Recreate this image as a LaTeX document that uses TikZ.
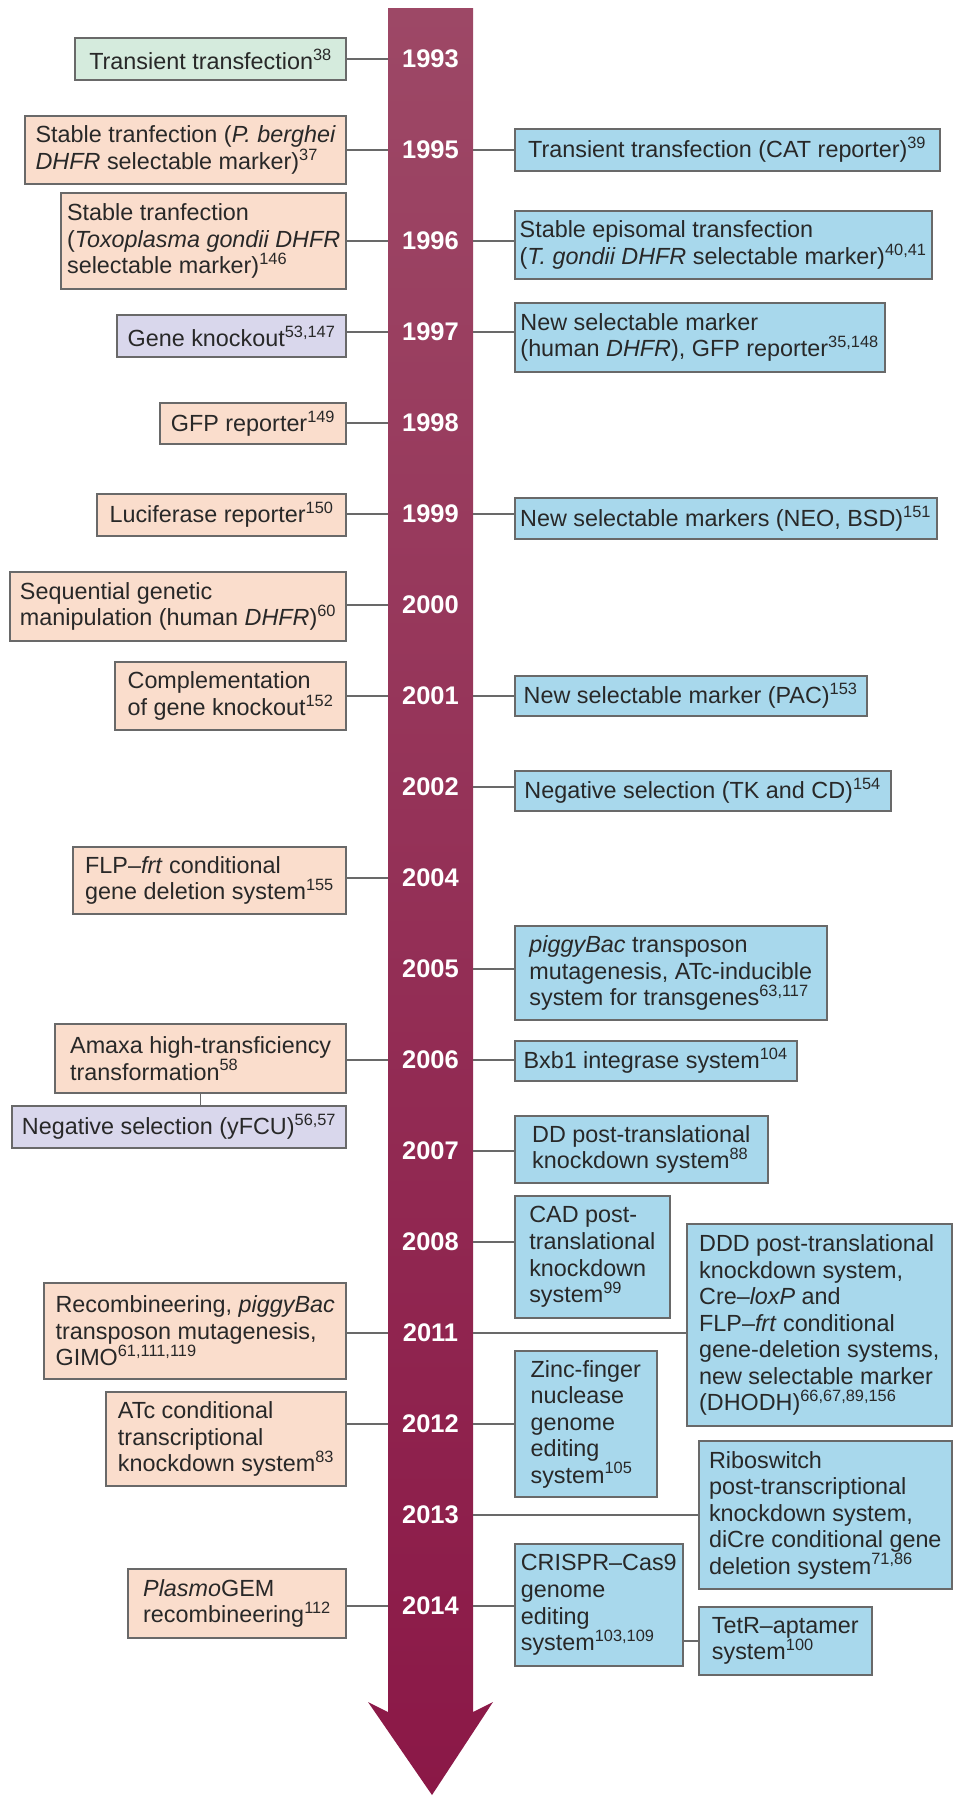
\documentclass[tikz,border=0pt]{standalone}
\usepackage{fontspec}
\setmainfont{Liberation Sans}
\usepackage{xcolor}
\usepackage{tikz}
\definecolor{peach}{RGB}{250,221,204}
\definecolor{skyblue}{RGB}{168,216,236}
\definecolor{mint}{RGB}{213,235,221}
\definecolor{lavender}{RGB}{217,215,236}
\definecolor{bartop}{RGB}{157,72,102}
\definecolor{barbottom}{RGB}{139,24,71}
\definecolor{edgegray}{RGB}{105,105,105}
\definecolor{inkgray}{RGB}{40,40,40}

\begin{document}
\begin{tikzpicture}[x=0.02cm,y=-0.02cm,
    sz/.style 2 args={minimum width=#1*0.02cm,minimum height=#2*0.02cm},
    evbox/.style={draw=edgegray,line width=0.9pt,text=inkgray,align=left,
      inner xsep=0.06cm,inner ysep=0pt,font=\fontsize{13.3}{15.1}\selectfont},
    lbox/.style={evbox,fill=peach,anchor=east},
    rbox/.style={evbox,fill=skyblue,anchor=west},
    link/.style={draw=edgegray,line width=0.75pt},
    yearlbl/.style={text=white,font=\fontsize{14.5}{16}\selectfont\bfseries,
      minimum width=1.7cm,inner sep=0pt}]
    \useasboundingbox (0,0) rectangle (953,1796);

    % Time arrow
    \shade[top color=bartop,bottom color=barbottom]
      (388,8) -- (473,8) -- (473,1712) -- (493,1702) -- (432,1795)
      -- (368,1702) -- (388,1712) -- cycle;

    % Years
    \foreach \yr [count=\k from 0] in {1993,1995,1996,1997,1998,1999,2000,2001,2002,
        2004,2005,2006,2007,2008,2011,2012,2013,2014}
      \node[yearlbl] (y\yr) at (430.5,{59+91*\k}) {\yr};

    % Left side
    \node[lbox,fill=mint,sz={271}{42}] (l93) at (347,59) {Transient transfection\textsuperscript{38}};
    \node[lbox,sz={321}{68}] (l95) at (347,150) {Stable tranfection (\textit{P. berghei}\\\textit{DHFR} selectable marker)\textsuperscript{37}};
    \node[lbox,sz={285}{96}] (l96) at (347,241) {Stable tranfection\\(\textit{Toxoplasma gondii DHFR}\\selectable marker)\textsuperscript{146}};
    \node[lbox,fill=lavender,sz={229}{42}] (l97) at (347,336) {Gene knockout\textsuperscript{53,147}};
    \node[lbox,sz={186}{41}] (l98) at (347,423.5) {GFP reporter\textsuperscript{149}};
    \node[lbox,sz={249}{42}] (l99) at (347,515) {Luciferase reporter\textsuperscript{150}};
    \node[lbox,sz={336}{69}] (l00) at (347,606.5) {Sequential genetic\\manipulation (human \textit{DHFR})\textsuperscript{60}};
    \node[lbox,sz={231}{68}] (l01) at (347,696) {Complementation\\of gene knockout\textsuperscript{152}};
    \node[lbox,sz={273}{67}] (l04) at (347,880.5) {FLP–\textit{frt} conditional\\gene deletion system\textsuperscript{155}};
    \node[lbox,sz={291}{69}] (l06) at (347,1058.5) {Amaxa high-transficiency\\transformation\textsuperscript{58}};
    \node[lbox,fill=lavender,sz={334}{42}] (l06b) at (347,1127) {Negative selection (yFCU)\textsuperscript{56,57}};
    \node[lbox,sz={302}{96}] (l11) at (347,1331) {Recombineering, \textit{piggyBac}\\transposon mutagenesis,\\GIMO\textsuperscript{61,111,119}};
    \node[lbox,sz={240}{94}] (l12) at (347,1439) {ATc conditional\\transcriptional\\knockdown system\textsuperscript{83}};
    \node[lbox,sz={218}{69}] (l14) at (347,1603.5) {\textit{Plasmo}GEM\\recombineering\textsuperscript{112}};

    % Right side
    \node[rbox,sz={425}{42}] (r95) at (514,150) {Transient transfection (CAT reporter)\textsuperscript{39}};
    \node[rbox,sz={417}{68}] (r96) at (514,245) {Stable episomal transfection\\(\textit{T. gondii DHFR} selectable marker)\textsuperscript{40,41}};
    \node[rbox,sz={370}{69}] (r97) at (514,337.5) {New selectable marker\\(human \textit{DHFR}), GFP reporter\textsuperscript{35,148}};
    \node[rbox,sz={422}{41}] (r99) at (514,518.5) {New selectable markers (NEO, BSD)\textsuperscript{151}};
    \node[rbox,sz={352}{40}] (r01) at (514,696) {New selectable marker (PAC)\textsuperscript{153}};
    \node[rbox,sz={376}{40}] (r02) at (514,791) {Negative selection (TK and CD)\textsuperscript{154}};
    \node[rbox,sz={312}{94}] (r05) at (514,973) {\textit{piggyBac} transposon\\mutagenesis, ATc-inducible\\system for transgenes\textsuperscript{63,117}};
    \node[rbox,sz={282}{40}] (r06) at (514,1061) {Bxb1 integrase system\textsuperscript{104}};
    \node[rbox,sz={253}{67}] (r07) at (514,1149.5) {DD post-translational\\knockdown system\textsuperscript{88}};
    \node[rbox,sz={155}{122}] (r08) at (514,1257) {CAD post-\\translational\\knockdown\\system\textsuperscript{99}};
    \node[rbox,sz={265}{202}] (r11) at (686,1325) {DDD post-translational\\knockdown system,\\Cre–\textit{loxP} and\\FLP–\textit{frt} conditional\\gene-deletion systems,\\new selectable marker\\(DHODH)\textsuperscript{66,67,89,156}};
    \node[rbox,sz={142}{146}] (r12) at (514,1424) {Zinc-finger\\nuclease\\genome\\editing\\system\textsuperscript{105}};
    \node[rbox,sz={253}{148}] (r13) at (698,1515) {Riboswitch\\post-transcriptional\\knockdown system,\\diCre conditional gene\\deletion system\textsuperscript{71,86}};
    \node[rbox,sz={168}{122}] (r14) at (514,1605) {CRISPR–Cas9\\genome\\editing\\system\textsuperscript{103,109}};
    \node[rbox,sz={173}{68}] (r14b) at (698,1641) {TetR–aptamer\\system\textsuperscript{100}};

    % Links to the arrow
    \foreach \b/\yr in {l93/1993,l95/1995,l96/1996,l97/1997,l98/1998,l99/1999,l00/2000,
        l01/2001,l04/2004,l06/2006,l11/2011,l12/2012,l14/2014}
      \draw[link] (\b.east |- y\yr.west) -- (y\yr.west);
    \foreach \b/\yr in {r95/1995,r96/1996,r97/1997,r99/1999,r01/2001,r02/2002,r05/2005,
        r06/2006,r07/2007,r08/2008,r11/2011,r12/2012,r13/2013,r14/2014}
      \draw[link] (y\yr.east) -- (\b.west |- y\yr.east);
    \draw[link] (l06.south) -- (l06.south |- l06b.north);
    \draw[link] (r14.east |- r14b.west) -- (r14b.west);
\end{tikzpicture}
\end{document}
